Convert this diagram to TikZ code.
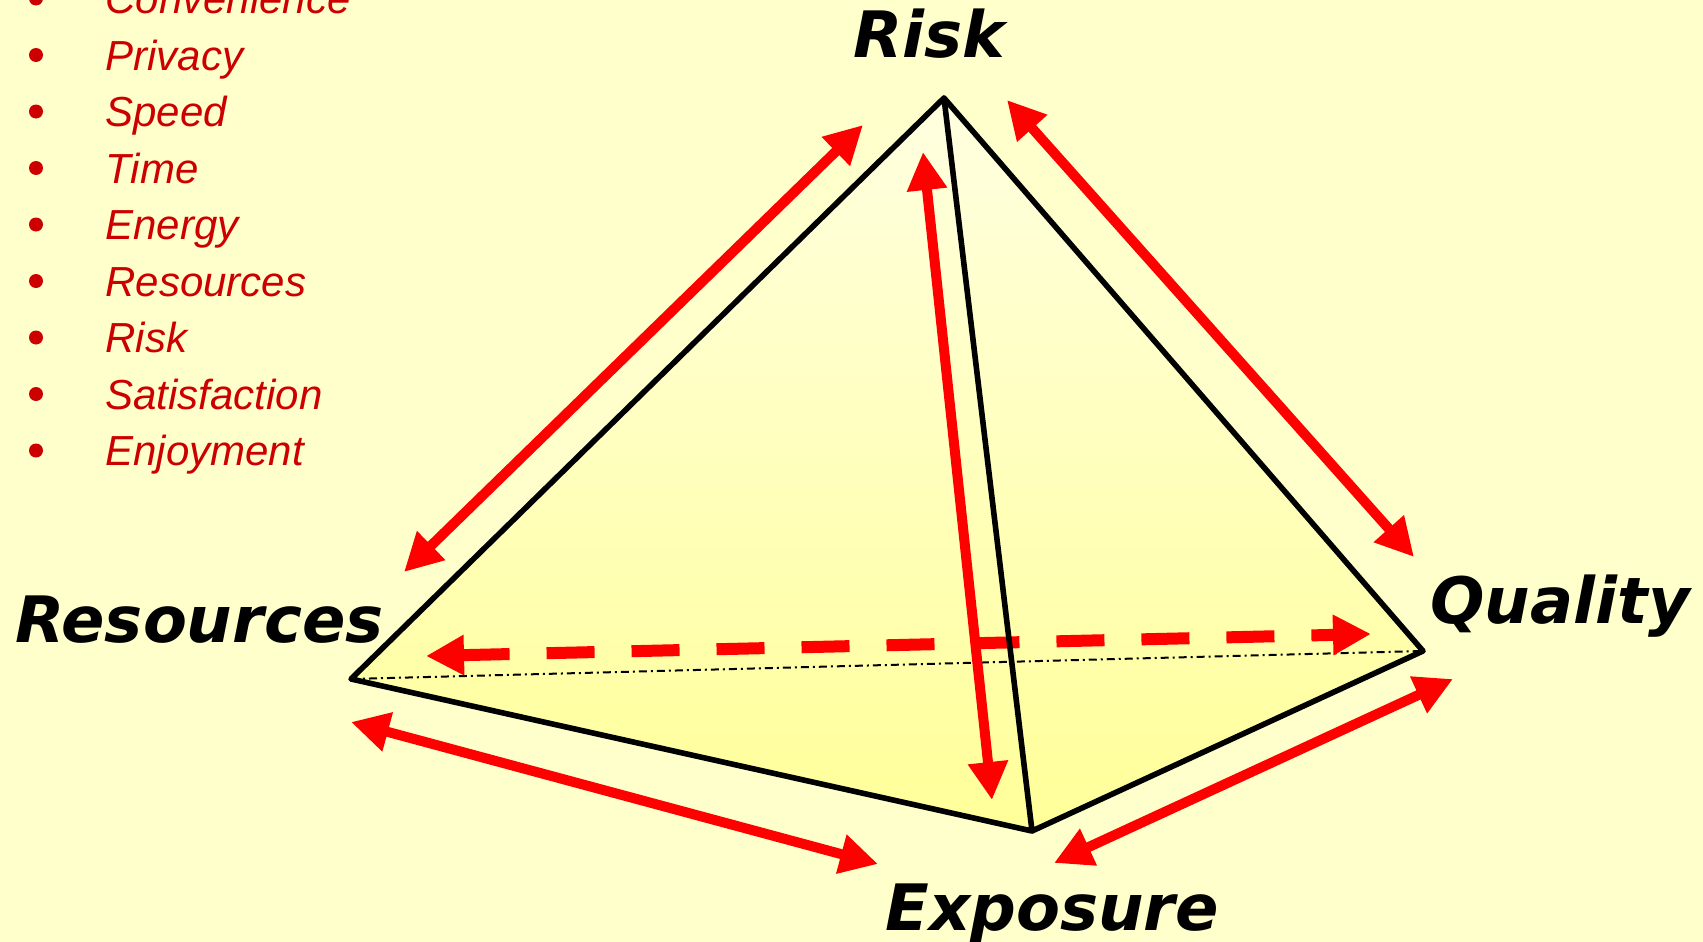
\documentclass[tikz,border=0pt]{standalone}
\usepackage{fontspec}
\setmainfont{Liberation Sans}
\newfontfamily\cornerfont{DejaVu Sans}
\usetikzlibrary{arrows.meta}
\definecolor{bgyellow}{HTML}{FFFFCC}
\definecolor{faceyellow}{HTML}{FFFF99}
\definecolor{listred}{HTML}{CC0000}
\definecolor{arrowred}{HTML}{FF0000}

\begin{document}
\begin{tikzpicture}[x=.5pt,y=-.5pt,>={Triangle[length=19pt,width=19pt]},
  cornerlabel/.style={font=\cornerfont\bfseries\itshape\fontsize{32}{38}\selectfont,inner sep=0pt,anchor=base west},
  listitem/.style={font=\itshape\fontsize{21}{25}\selectfont,text=listred,inner sep=0pt,anchor=base west},
  bulletmark/.style={circle,fill=listred,inner sep=0pt,minimum size=7pt},
  rim/.style={line width=2.8pt,line join=round,line cap=round},
  twoway/.style={arrowred,line width=5pt,<->}]
  \useasboundingbox (0,0) rectangle (1703,942);
  \fill[bgyellow] (0,0) rectangle (1703,942);

  % list of costs
  \foreach \word [count=\i from 0] in {Convenience,Privacy,Speed,Time,Energy,Resources,Risk,Satisfaction,Enjoyment}{
    \node[bulletmark] (dot\i) at (36,-1.5+56.5*\i) {};
    \node[listitem] (item\i) at (105,13.5+56.5*\i) {\word};
  }

  % pyramid corners
  \coordinate (risk) at (944,98);
  \coordinate (res) at (351,679);
  \coordinate (qual) at (1423,651);
  \coordinate (expo) at (1032,831);
  \shade[top color=bgyellow!60!white,bottom color=faceyellow] (res)--(risk)--(qual)--(expo)--cycle;
  \draw[line width=1pt,dash pattern=on 4pt off 2pt on 1pt off 2pt] (res)--(qual);

  \node[cornerlabel] (risklbl) at (853,57) {Risk};
  \node[cornerlabel] (reslbl) at (15,642) {Resources};
  \node[cornerlabel] (quallbl) at (1430,623) {Quality};
  \node[cornerlabel] (expolbl) at (885,930) {Exposure};

  % arrow ends
  \coordinate (ul1) at (863,125);  \coordinate (ul2) at (404,572);
  \coordinate (ur1) at (1007,100); \coordinate (ur2) at (1414,557);
  \coordinate (md1) at (923,152);  \coordinate (md2) at (992,800);
  \coordinate (bl1) at (351,722);  \coordinate (bl2) at (878,864);
  \coordinate (br1) at (1453,679); \coordinate (br2) at (1054,863);
  \coordinate (bk1) at (426,656);  \coordinate (bk2) at (1371,634);

  \draw[twoway,line width=6pt,dash pattern=on 24pt off 18.5pt] (bk1)--(bk2);
  \draw[rim] (res)--(risk)--(qual)--(expo)--cycle (risk)--(expo);
  \draw[twoway] (ul1)--(ul2);
  \draw[twoway] (ur1)--(ur2);
  \draw[twoway] (md1)--(md2);
  \draw[twoway] (bl1)--(bl2);
  \draw[twoway] (br1)--(br2);
\end{tikzpicture}
\end{document}
